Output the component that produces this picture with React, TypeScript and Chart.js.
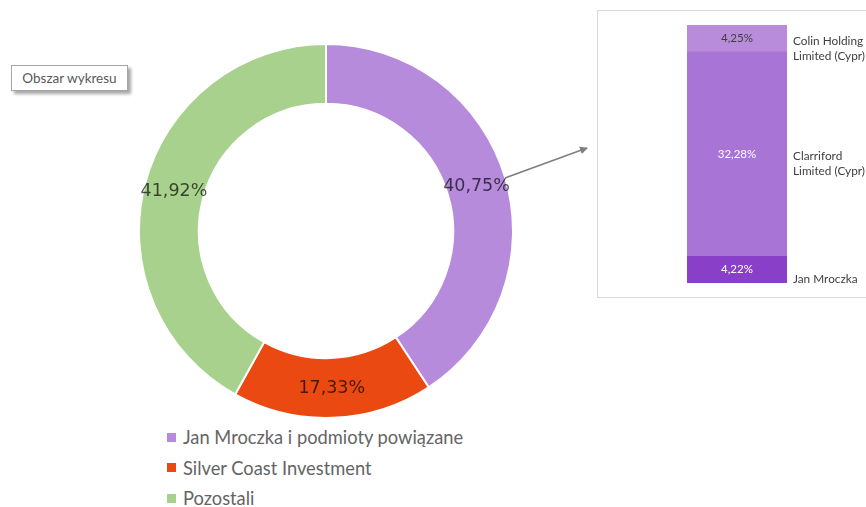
import React, { useEffect, useRef } from "react";
import { Chart, registerables } from "chart.js";

Chart.register(...registerables);

// Donut data
const donutLabels = ["Jan Mroczka i podmioty powiązane", "Silver Coast Investment", "Pozostali"];
const donutValues = [40.75, 17.33, 41.92];
const donutColors = ["#b68bdc", "#ea4a12", "#a9d18e"];

// Breakdown (stacked bar) data, bottom to top
const barCategories = [""];
const barSeriesNames = ["Jan Mroczka", "Clarriford Limited (Cypr)", "Colin Holding Limited (Cypr)"];
const barSeriesLines = [["Jan Mroczka"], ["Clarriford", "Limited (Cypr)"], ["Colin Holding", "Limited (Cypr)"]];
const barValues = [4.22, 32.28, 4.25];
const barColors = ["#8a3fc8", "#a874d5", "#b88cda"];
const barValueTextColors = ["#ffffff", "#ffffff", "#404040"];

const fmt = (v: number) => v.toFixed(2).replace(".", ",") + "%";

const donutLabelPlugin = {
  id: "donutLabels",
  afterDatasetsDraw(chart: any) {
    const ctx = chart.ctx;
    const meta = chart.getDatasetMeta(0);
    ctx.save();
    ctx.font = '17.5px "DejaVu Sans"';
    ctx.fillStyle = "rgba(0,0,0,0.68)";
    ctx.textAlign = "center";
    ctx.textBaseline = "middle";
    meta.data.forEach((el: any, i: number) => {
      const p = el.tooltipPosition();
      ctx.fillText(fmt(donutValues[i]), p.x, p.y);
    });
    ctx.restore();
  },
};

const barLabelPlugin = {
  id: "barLabels",
  afterDatasetsDraw(chart: any) {
    const ctx = chart.ctx;
    ctx.save();
    chart.data.datasets.forEach((ds: any, i: number) => {
      const meta = chart.getDatasetMeta(i);
      const el: any = meta.data[0];
      if (!el) return;
      const props = el.getProps(["x", "y", "base", "width"], true);
      const cy = (props.y + props.base) / 2;
      ctx.font = '11.5px Lato';
      ctx.textAlign = "center";
      ctx.textBaseline = "middle";
      ctx.fillStyle = barValueTextColors[i];
      ctx.fillText(fmt(barValues[i]), props.x, cy);
      // series name to the right
      ctx.textAlign = "left";
      ctx.fillStyle = "#404040";
      ctx.font = '11.8px Lato';
      const lines = barSeriesLines[i];
      const lh = 15;
      const startY = cy + 10 - ((lines.length - 1) * lh) / 2;
      lines.forEach((ln, k) => {
        ctx.fillText(ln, props.x + props.width / 2 + 6, startY + k * lh);
      });
    });
    ctx.restore();
  },
};

export default function App() {
  const donutRef = useRef<HTMLCanvasElement>(null);
  const barRef = useRef<HTMLCanvasElement>(null);

  useEffect(() => {
    const c1 = new Chart(donutRef.current as HTMLCanvasElement, {
      type: "doughnut",
      data: {
        labels: donutLabels,
        datasets: [
          {
            data: donutValues,
            backgroundColor: donutColors,
            borderColor: "#ffffff",
            borderWidth: 2,
          },
        ],
      },
      options: {
        animation: false,
        responsive: false,
        cutout: "68%",
        layout: { padding: 0 },
        plugins: { legend: { display: false }, tooltip: { enabled: false } },
      },
      plugins: [donutLabelPlugin],
    });

    const total = barValues.reduce((a, b) => a + b, 0);
    const c2 = new Chart(barRef.current as HTMLCanvasElement, {
      type: "bar",
      data: {
        labels: barCategories,
        datasets: barSeriesNames.map((name, i) => ({
          label: name,
          data: [barValues[i]],
          backgroundColor: barColors[i],
          borderWidth: 0,
          barPercentage: 1,
          categoryPercentage: 1,
        })),
      },
      options: {
        animation: false,
        responsive: false,
        layout: { padding: { left: 90, right: 79, top: 15, bottom: 15 } },
        scales: {
          x: { stacked: true, display: false },
          y: { stacked: true, display: false, min: 0, max: total },
        },
        plugins: { legend: { display: false }, tooltip: { enabled: false } },
      },
      plugins: [barLabelPlugin],
    });

    return () => {
      c1.destroy();
      c2.destroy();
    };
  }, []);

  return (
    <div
      style={{
        position: "absolute",
        left: 0,
        top: 0,
        width: 866,
        height: 507,
        overflow: "hidden",
        background: "#ffffff",
        fontFamily: "Lato, sans-serif",
      }}
    >
      <div
        style={{
          position: "absolute",
          left: 11,
          top: 65,
          width: 117,
          height: 26,
          border: "1px solid #a6a6a6",
          boxShadow: "3px 3px 3px rgba(0,0,0,0.35)",
          background: "#fff",
          color: "#595959",
          fontSize: 13.5,
          lineHeight: "24px",
          textAlign: "center",
          boxSizing: "border-box",
        }}
      >
        Obszar wykresu
      </div>

      <canvas
        ref={donutRef}
        width={376}
        height={376}
        style={{ position: "absolute", left: 138, top: 43, width: 376, height: 376 }}
      />

      <div style={{ position: "absolute", left: 167, top: 422 }}>
        {donutLabels.map((l, i) => (
          <div
            key={l}
            style={{ display: "flex", alignItems: "center", height: 30.5, color: "#646464", fontSize: 18.3 }}
          >
            <span
              style={{ display: "inline-block", width: 9, height: 9, background: donutColors[i], marginRight: 7 }}
            />
            <span>{l}</span>
          </div>
        ))}
      </div>

      <svg
        width={866}
        height={507}
        style={{ position: "absolute", left: 0, top: 0, pointerEvents: "none" }}
      >
        <defs>
          <marker id="ah" markerWidth="8" markerHeight="8" refX="7" refY="4" orient="auto" markerUnits="userSpaceOnUse">
            <path d="M0,0 L8,4 L0,8 z" fill="#7f7f7f" />
          </marker>
        </defs>
        <line x1={505} y1={178} x2={587} y2={148} stroke="#7f7f7f" strokeWidth={1.5} markerEnd="url(#ah)" />
      </svg>

      <div
        style={{
          position: "absolute",
          left: 597,
          top: 10,
          width: 300,
          height: 288,
          border: "1px solid #d9d9d9",
          boxSizing: "border-box",
          background: "#fff",
        }}
      />
      <canvas
        ref={barRef}
        width={269}
        height={288}
        style={{ position: "absolute", left: 597, top: 10, width: 269, height: 288 }}
      />
    </div>
  );
}
